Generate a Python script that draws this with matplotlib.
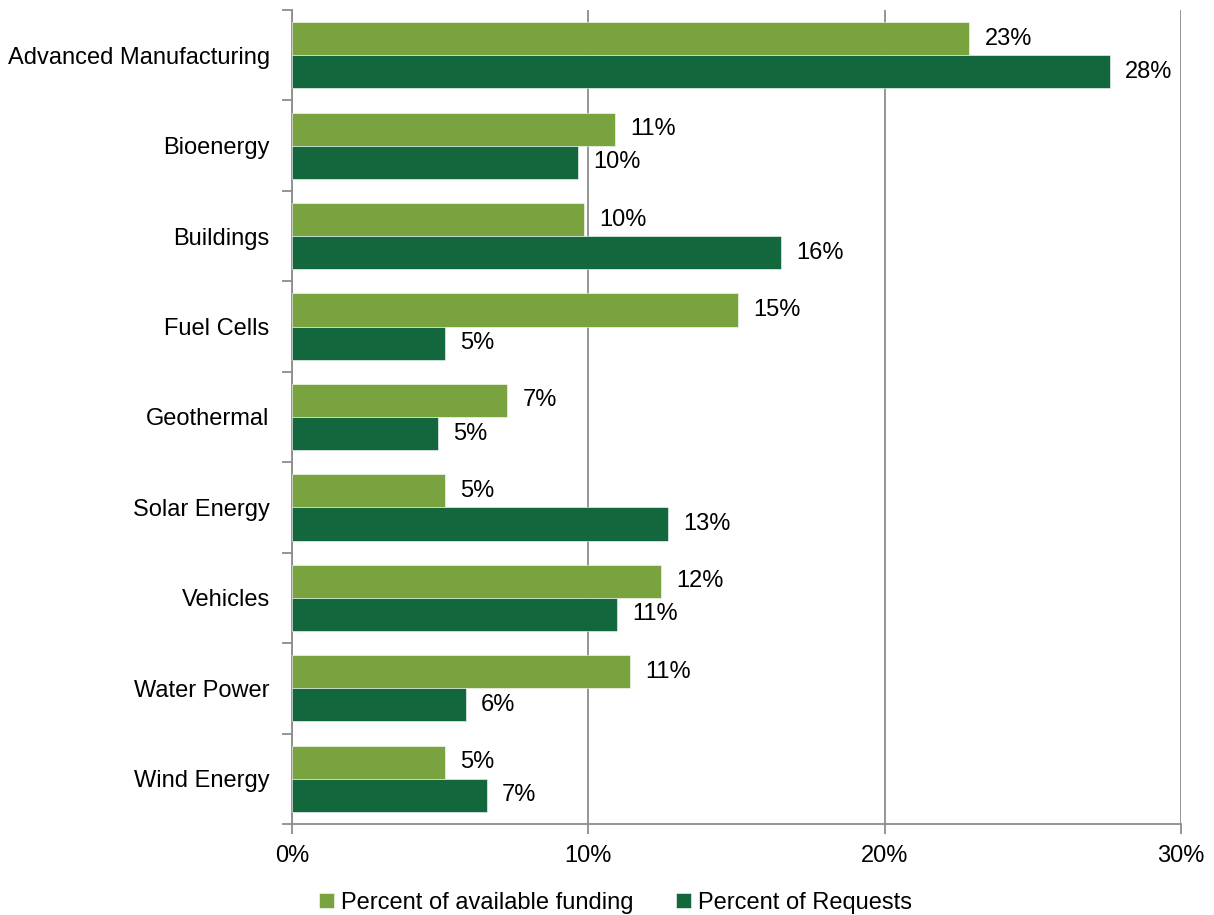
import numpy as np
import matplotlib.pyplot as plt

plt.rcParams['font.family'] = ['Liberation Sans', 'DejaVu Sans']

categories = ['Advanced Manufacturing', 'Bioenergy', 'Buildings', 'Fuel Cells',
              'Geothermal', 'Solar Energy', 'Vehicles', 'Water Power', 'Wind Energy']
funding = [22.85, 10.9, 9.85, 15.05, 7.26, 5.16, 12.45, 11.4, 5.16]
requests = [27.6, 9.65, 16.5, 5.16, 4.93, 12.7, 10.97, 5.87, 6.58]
xticks = [0, 10, 20, 30]

light = '#78A33F'
dark = '#12673D'
grey = '#8C8C8C'
fs = 17

fig = plt.figure(figsize=(12.14, 9.15), dpi=100)
ax = fig.add_axes([0.2405, 0.0995, 0.7323, 0.8896])

y = np.arange(len(categories))
h = 0.366
b1 = ax.barh(y - h / 2, funding, height=h, color=light, edgecolor='white',
             linewidth=0.4, label='Percent of available funding', zorder=3)
b2 = ax.barh(y + h / 2, requests, height=h, color=dark, edgecolor='white',
             linewidth=0.4, label='Percent of Requests', zorder=3)
ax.bar_label(b1, labels=['%.0f%%' % v for v in funding], padding=11, fontsize=fs)
ax.bar_label(b2, labels=['%.0f%%' % v for v in requests], padding=11, fontsize=fs)

ax.set_xlim(0, 30)
ax.set_ylim(len(categories) - 0.5, -0.5)
ax.set_xticks(xticks)
ax.set_xticklabels(['%d%%' % t for t in xticks], fontsize=fs)
ax.set_yticks(y)
ax.set_yticklabels(categories, fontsize=fs)
ax.set_yticks(np.arange(len(categories) + 1) - 0.5, minor=True)
ax.tick_params(axis='y', which='major', length=0, pad=16)
ax.tick_params(axis='y', which='minor', length=7, color=grey, width=1.3)
ax.tick_params(axis='x', length=7, color=grey, width=1.3, pad=8)

ax.grid(axis='x', color=grey, linewidth=1.3, zorder=0)
for side in ['top', 'right']:
    ax.spines[side].set_visible(False)
for side in ['left', 'bottom']:
    ax.spines[side].set_color(grey)
    ax.spines[side].set_linewidth(1.3)

fig.legend(loc='lower center', ncol=2, frameon=False, fontsize=fs,
           handlelength=0.65, handleheight=0.65, handletextpad=0.3,
           columnspacing=1.8, bbox_to_anchor=(0.507, -0.022))

fig.savefig('out.png', dpi=100)
